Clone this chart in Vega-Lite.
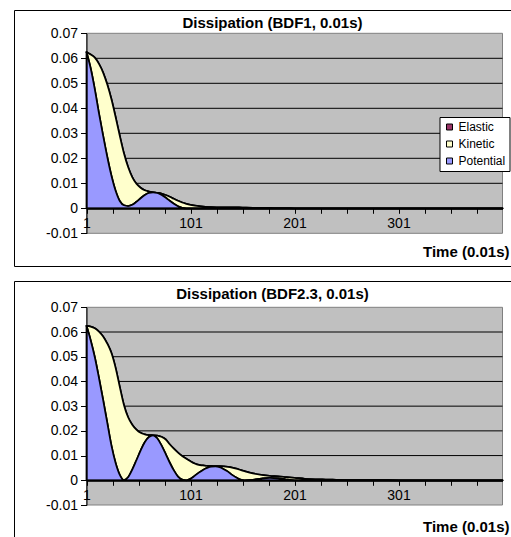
{
  "$schema": "https://vega.github.io/schema/vega-lite/v6.json",
  "background": "white",
  "padding": {"left": 13, "top": 9, "right": 0, "bottom": 0},
  "spacing": 13,
  "config": {
    "font": "Liberation Sans",
    "view": {"stroke": "black", "strokeWidth": 1, "fill": "white"},
    "axis": {"labelFont": "Liberation Sans", "labelColor": "black", "labelFontSize": 14, "domainColor": "black", "tickColor": "black", "titleColor": "black", "titleFont": "Liberation Sans", "labelOverlap": false},
    "legend": {"labelFont": "Liberation Sans", "labelColor": "black", "labelFontSize": 12, "symbolType": "square", "symbolSize": 36, "symbolStrokeColor": "black", "symbolStrokeWidth": 1, "strokeColor": "black", "fillColor": "white", "padding": 4, "rowPadding": 5, "labelOffset": 3, "cornerRadius": 0}
  },
  "datasets": {
    "bdf1": [
      {"t": 1, "Potential": 0.0625, "Kinetic": 0, "Elastic": 0},
      {"t": 5, "Potential": 0.056, "Kinetic": 0.0055, "Elastic": 0},
      {"t": 9, "Potential": 0.0476, "Kinetic": 0.0127, "Elastic": 0},
      {"t": 13, "Potential": 0.038, "Kinetic": 0.0198, "Elastic": 0},
      {"t": 17, "Potential": 0.029, "Kinetic": 0.0253, "Elastic": 0},
      {"t": 21, "Potential": 0.0205, "Kinetic": 0.029, "Elastic": 0},
      {"t": 25, "Potential": 0.013, "Kinetic": 0.0306, "Elastic": 0},
      {"t": 29, "Potential": 0.007, "Kinetic": 0.0295, "Elastic": 0},
      {"t": 33, "Potential": 0.0029, "Kinetic": 0.0261, "Elastic": 0},
      {"t": 37, "Potential": 0.0012, "Kinetic": 0.0208, "Elastic": 0},
      {"t": 41, "Potential": 0.0009, "Kinetic": 0.0156, "Elastic": 0},
      {"t": 45, "Potential": 0.0014, "Kinetic": 0.0111, "Elastic": 0},
      {"t": 49, "Potential": 0.0026, "Kinetic": 0.0072, "Elastic": 0},
      {"t": 53, "Potential": 0.004, "Kinetic": 0.0042, "Elastic": 0},
      {"t": 57, "Potential": 0.0053, "Kinetic": 0.0019, "Elastic": 0},
      {"t": 61, "Potential": 0.0062, "Kinetic": 0.0005, "Elastic": 0},
      {"t": 65, "Potential": 0.0064, "Kinetic": 0, "Elastic": 0},
      {"t": 69, "Potential": 0.0062, "Kinetic": 0, "Elastic": 0},
      {"t": 73, "Potential": 0.0054, "Kinetic": 0.0005, "Elastic": 0},
      {"t": 77, "Potential": 0.0043, "Kinetic": 0.001, "Elastic": 0},
      {"t": 81, "Potential": 0.003, "Kinetic": 0.0016, "Elastic": 0},
      {"t": 85, "Potential": 0.0018, "Kinetic": 0.002, "Elastic": 0},
      {"t": 89, "Potential": 0.0008, "Kinetic": 0.0022, "Elastic": 0},
      {"t": 93, "Potential": 0.0002, "Kinetic": 0.0021, "Elastic": 0},
      {"t": 97, "Potential": 0, "Kinetic": 0.0018, "Elastic": 0},
      {"t": 101, "Potential": 0, "Kinetic": 0.0014, "Elastic": 0},
      {"t": 111, "Potential": 0, "Kinetic": 0.0008, "Elastic": 0},
      {"t": 121, "Potential": 0, "Kinetic": 0.0005, "Elastic": 0},
      {"t": 131, "Potential": 0, "Kinetic": 0.0004, "Elastic": 0},
      {"t": 141, "Potential": 0, "Kinetic": 0.0004, "Elastic": 0},
      {"t": 151, "Potential": 0, "Kinetic": 0.0003, "Elastic": 0},
      {"t": 161, "Potential": 0, "Kinetic": 0.0002, "Elastic": 0},
      {"t": 171, "Potential": 0, "Kinetic": 0.0002, "Elastic": 0},
      {"t": 181, "Potential": 0, "Kinetic": 0.0001, "Elastic": 0},
      {"t": 191, "Potential": 0, "Kinetic": 0.0001, "Elastic": 0},
      {"t": 201, "Potential": 0, "Kinetic": 0, "Elastic": 0},
      {"t": 251, "Potential": 0, "Kinetic": 0, "Elastic": 0},
      {"t": 301, "Potential": 0, "Kinetic": 0, "Elastic": 0},
      {"t": 351, "Potential": 0, "Kinetic": 0, "Elastic": 0},
      {"t": 401, "Potential": 0, "Kinetic": 0, "Elastic": 0}
    ],
    "bdf23": [
      {"t": 1, "Potential": 0.0625, "Kinetic": 0, "Elastic": 0},
      {"t": 5, "Potential": 0.0567, "Kinetic": 0.0055, "Elastic": 0},
      {"t": 9, "Potential": 0.0498, "Kinetic": 0.0117, "Elastic": 0},
      {"t": 13, "Potential": 0.0414, "Kinetic": 0.0188, "Elastic": 0},
      {"t": 17, "Potential": 0.0325, "Kinetic": 0.0257, "Elastic": 0},
      {"t": 21, "Potential": 0.0232, "Kinetic": 0.0321, "Elastic": 0},
      {"t": 25, "Potential": 0.014, "Kinetic": 0.0375, "Elastic": 0},
      {"t": 29, "Potential": 0.007, "Kinetic": 0.0385, "Elastic": 0},
      {"t": 33, "Potential": 0.0022, "Kinetic": 0.0356, "Elastic": 0},
      {"t": 37, "Potential": 0.0001, "Kinetic": 0.0304, "Elastic": 0},
      {"t": 41, "Potential": 0.0012, "Kinetic": 0.0243, "Elastic": 0},
      {"t": 45, "Potential": 0.0043, "Kinetic": 0.0182, "Elastic": 0},
      {"t": 49, "Potential": 0.0081, "Kinetic": 0.0124, "Elastic": 0},
      {"t": 53, "Potential": 0.012, "Kinetic": 0.0072, "Elastic": 0},
      {"t": 57, "Potential": 0.0154, "Kinetic": 0.0032, "Elastic": 0},
      {"t": 61, "Potential": 0.0175, "Kinetic": 0.0008, "Elastic": 0},
      {"t": 65, "Potential": 0.0182, "Kinetic": 0, "Elastic": 0},
      {"t": 69, "Potential": 0.017, "Kinetic": 0.0011, "Elastic": 0},
      {"t": 73, "Potential": 0.0142, "Kinetic": 0.0034, "Elastic": 0},
      {"t": 77, "Potential": 0.0108, "Kinetic": 0.0058, "Elastic": 0},
      {"t": 81, "Potential": 0.0072, "Kinetic": 0.0074, "Elastic": 0},
      {"t": 85, "Potential": 0.004, "Kinetic": 0.0088, "Elastic": 0},
      {"t": 89, "Potential": 0.0015, "Kinetic": 0.0097, "Elastic": 0},
      {"t": 93, "Potential": 0.0003, "Kinetic": 0.0095, "Elastic": 0},
      {"t": 97, "Potential": 0, "Kinetic": 0.0087, "Elastic": 0},
      {"t": 101, "Potential": 0.0006, "Kinetic": 0.0071, "Elastic": 0},
      {"t": 105, "Potential": 0.0018, "Kinetic": 0.005, "Elastic": 0},
      {"t": 109, "Potential": 0.0031, "Kinetic": 0.0031, "Elastic": 0},
      {"t": 113, "Potential": 0.0042, "Kinetic": 0.0018, "Elastic": 0},
      {"t": 117, "Potential": 0.005, "Kinetic": 0.0008, "Elastic": 0},
      {"t": 121, "Potential": 0.0055, "Kinetic": 0.0003, "Elastic": 0},
      {"t": 125, "Potential": 0.0056, "Kinetic": 0.0001, "Elastic": 0},
      {"t": 129, "Potential": 0.0053, "Kinetic": 0.0004, "Elastic": 0},
      {"t": 133, "Potential": 0.0045, "Kinetic": 0.0011, "Elastic": 0},
      {"t": 137, "Potential": 0.0035, "Kinetic": 0.0019, "Elastic": 0},
      {"t": 141, "Potential": 0.0022, "Kinetic": 0.0029, "Elastic": 0},
      {"t": 145, "Potential": 0.0011, "Kinetic": 0.0036, "Elastic": 0},
      {"t": 149, "Potential": 0.0003, "Kinetic": 0.0039, "Elastic": 0},
      {"t": 153, "Potential": 0, "Kinetic": 0.0037, "Elastic": 0},
      {"t": 161, "Potential": 0.0002, "Kinetic": 0.0026, "Elastic": 0},
      {"t": 169, "Potential": 0.0007, "Kinetic": 0.0015, "Elastic": 0},
      {"t": 177, "Potential": 0.001, "Kinetic": 0.0008, "Elastic": 0},
      {"t": 185, "Potential": 0.0008, "Kinetic": 0.0008, "Elastic": 0},
      {"t": 193, "Potential": 0.0003, "Kinetic": 0.001, "Elastic": 0},
      {"t": 201, "Potential": 0, "Kinetic": 0.001, "Elastic": 0},
      {"t": 211, "Potential": 0, "Kinetic": 0.0006, "Elastic": 0},
      {"t": 221, "Potential": 0, "Kinetic": 0.0004, "Elastic": 0},
      {"t": 231, "Potential": 0, "Kinetic": 0.0003, "Elastic": 0},
      {"t": 241, "Potential": 0, "Kinetic": 0.0002, "Elastic": 0},
      {"t": 261, "Potential": 0, "Kinetic": 0.0001, "Elastic": 0},
      {"t": 281, "Potential": 0, "Kinetic": 0.0001, "Elastic": 0},
      {"t": 301, "Potential": 0, "Kinetic": 0, "Elastic": 0},
      {"t": 351, "Potential": 0, "Kinetic": 0, "Elastic": 0},
      {"t": 401, "Potential": 0, "Kinetic": 0, "Elastic": 0}
    ]
  },
  "vconcat": [
    {
      "width": 497,
      "height": 256,
      "title": {"text": "Dissipation (BDF1, 0.01s)", "anchor": "middle", "frame": "group", "offset": -21, "dx": 10, "fontSize": 15, "fontWeight": "bold", "color": "black"},
      "layer": [
        {"data": {"values": [{}]}, "mark": {"type": "rect", "fill": "#c0c0c0", "stroke": "#808080", "strokeWidth": 1},
         "encoding": {"x": {"datum": 1, "type": "quantitative"}, "x2": {"datum": 401}, "y": {"datum": -0.01, "type": "quantitative"}, "y2": {"datum": 0.07}}},
        {"data": {"values": [{}]}, "mark": {"type": "rule", "color": "black", "strokeWidth": 1},
         "encoding": {"x": {"datum": 1, "type": "quantitative"}, "x2": {"datum": 401}, "y": {"datum": 0.01, "type": "quantitative"}}},
        {"data": {"values": [{}]}, "mark": {"type": "rule", "color": "black", "strokeWidth": 1},
         "encoding": {"x": {"datum": 1, "type": "quantitative"}, "x2": {"datum": 401}, "y": {"datum": 0.02, "type": "quantitative"}}},
        {"data": {"values": [{}]}, "mark": {"type": "rule", "color": "black", "strokeWidth": 1},
         "encoding": {"x": {"datum": 1, "type": "quantitative"}, "x2": {"datum": 401}, "y": {"datum": 0.03, "type": "quantitative"}}},
        {"data": {"values": [{}]}, "mark": {"type": "rule", "color": "black", "strokeWidth": 1},
         "encoding": {"x": {"datum": 1, "type": "quantitative"}, "x2": {"datum": 401}, "y": {"datum": 0.04, "type": "quantitative"}}},
        {"data": {"values": [{}]}, "mark": {"type": "rule", "color": "black", "strokeWidth": 1},
         "encoding": {"x": {"datum": 1, "type": "quantitative"}, "x2": {"datum": 401}, "y": {"datum": 0.05, "type": "quantitative"}}},
        {"data": {"values": [{}]}, "mark": {"type": "rule", "color": "black", "strokeWidth": 1},
         "encoding": {"x": {"datum": 1, "type": "quantitative"}, "x2": {"datum": 401}, "y": {"datum": 0.06, "type": "quantitative"}}},
        {"data": {"name": "bdf1"},
         "transform": [{"fold": ["Elastic", "Kinetic", "Potential"], "as": ["series", "energy"]}],
         "mark": {"type": "area", "interpolate": "monotone", "stroke": "black", "strokeWidth": 1.75, "strokeJoin": "round"},
         "encoding": {
           "x": {"field": "t", "type": "quantitative",
                 "scale": {"domain": [1, 401], "range": [72.5, 488.5], "nice": false, "zero": false},
                 "axis": {"orient": "bottom", "offset": -57.7, "tickCount": 40, "values": [1, 26, 51, 76, 101, 126, 151, 176, 201, 226, 251, 276, 301, 326, 351, 376],
                          "labelExpr": "(datum.value - 1) % 100 == 0 ? '' + datum.value : ''", "labelFlush": false, "labelOverlap": false,
                          "tickSize": 5, "tickWidth": 1, "domainWidth": 2, "labelPadding": 3, "grid": false, "zindex": 1,
                          "title": "Time (0.01s)", "titleFontSize": 15, "titleFontWeight": "bold", "titleAlign": "right", "titleBaseline": "alphabetic", "titleX": 495, "titleY": 48}},
           "y": {"field": "energy", "type": "quantitative", "stack": "zero",
                 "scale": {"domain": [-0.01, 0.07], "range": [223.3, 23.3], "nice": false, "zero": false},
                 "axis": {"orient": "left", "offset": -72.5, "tickCount": 20, "values": [-0.01, 0, 0.01, 0.02, 0.03, 0.04, 0.05, 0.06, 0.07],
                          "labelExpr": "datum.value == 0 ? '0' : (datum.value < 0 ? '-' : '') + format(abs(datum.value), '.2f')",
                          "labelOverlap": false, "labelFlush": false,
                          "tickSize": 6, "tickWidth": 1, "domainWidth": 1, "labelPadding": 3, "grid": false, "zindex": 1, "title": null}},
           "color": {"field": "series", "type": "nominal",
                     "scale": {"domain": ["Elastic", "Kinetic", "Potential"], "range": ["#993366", "#ffffcc", "#9999ff"]},
                     "legend": {"orient": "none", "legendX": 425.5, "legendY": 107, "title": null}}
         }}
      ]
    },
    {
      "width": 497,
      "height": 257,
      "title": {"text": "Dissipation (BDF2.3, 0.01s)", "anchor": "middle", "frame": "group", "offset": -21, "dx": 10, "fontSize": 15, "fontWeight": "bold", "color": "black"},
      "layer": [
        {"data": {"values": [{}]}, "mark": {"type": "rect", "fill": "#c0c0c0", "stroke": "#808080", "strokeWidth": 1},
         "encoding": {"x": {"datum": 1, "type": "quantitative"}, "x2": {"datum": 401}, "y": {"datum": -0.01, "type": "quantitative"}, "y2": {"datum": 0.07}}},
        {"data": {"values": [{}]}, "mark": {"type": "rule", "color": "black", "strokeWidth": 1},
         "encoding": {"x": {"datum": 1, "type": "quantitative"}, "x2": {"datum": 401}, "y": {"datum": 0.01, "type": "quantitative"}}},
        {"data": {"values": [{}]}, "mark": {"type": "rule", "color": "black", "strokeWidth": 1},
         "encoding": {"x": {"datum": 1, "type": "quantitative"}, "x2": {"datum": 401}, "y": {"datum": 0.02, "type": "quantitative"}}},
        {"data": {"values": [{}]}, "mark": {"type": "rule", "color": "black", "strokeWidth": 1},
         "encoding": {"x": {"datum": 1, "type": "quantitative"}, "x2": {"datum": 401}, "y": {"datum": 0.03, "type": "quantitative"}}},
        {"data": {"values": [{}]}, "mark": {"type": "rule", "color": "black", "strokeWidth": 1},
         "encoding": {"x": {"datum": 1, "type": "quantitative"}, "x2": {"datum": 401}, "y": {"datum": 0.04, "type": "quantitative"}}},
        {"data": {"values": [{}]}, "mark": {"type": "rule", "color": "black", "strokeWidth": 1},
         "encoding": {"x": {"datum": 1, "type": "quantitative"}, "x2": {"datum": 401}, "y": {"datum": 0.05, "type": "quantitative"}}},
        {"data": {"values": [{}]}, "mark": {"type": "rule", "color": "black", "strokeWidth": 1},
         "encoding": {"x": {"datum": 1, "type": "quantitative"}, "x2": {"datum": 401}, "y": {"datum": 0.06, "type": "quantitative"}}},
        {"data": {"name": "bdf23"},
         "transform": [{"fold": ["Elastic", "Kinetic", "Potential"], "as": ["series", "energy"]}],
         "mark": {"type": "area", "interpolate": "monotone", "stroke": "black", "strokeWidth": 1.75, "strokeJoin": "round"},
         "encoding": {
           "x": {"field": "t", "type": "quantitative",
                 "scale": {"domain": [1, 401], "range": [72.5, 488.5], "nice": false, "zero": false},
                 "axis": {"orient": "bottom", "offset": -57.7, "tickCount": 40, "values": [1, 26, 51, 76, 101, 126, 151, 176, 201, 226, 251, 276, 301, 326, 351, 376],
                          "labelExpr": "(datum.value - 1) % 100 == 0 ? '' + datum.value : ''", "labelFlush": false, "labelOverlap": false,
                          "tickSize": 5, "tickWidth": 1, "domainWidth": 2, "labelPadding": 3, "grid": false, "zindex": 1,
                          "title": "Time (0.01s)", "titleFontSize": 15, "titleFontWeight": "bold", "titleAlign": "right", "titleBaseline": "alphabetic", "titleX": 495, "titleY": 51}},
           "y": {"field": "energy", "type": "quantitative", "stack": "zero",
                 "scale": {"domain": [-0.01, 0.07], "range": [224, 26.3], "nice": false, "zero": false},
                 "axis": {"orient": "left", "offset": -72.5, "tickCount": 20, "values": [-0.01, 0, 0.01, 0.02, 0.03, 0.04, 0.05, 0.06, 0.07],
                          "labelExpr": "datum.value == 0 ? '0' : (datum.value < 0 ? '-' : '') + format(abs(datum.value), '.2f')",
                          "labelOverlap": false, "labelFlush": false,
                          "tickSize": 6, "tickWidth": 1, "domainWidth": 1, "labelPadding": 3, "grid": false, "zindex": 1, "title": null}},
           "color": {"field": "series", "type": "nominal",
                     "scale": {"domain": ["Elastic", "Kinetic", "Potential"], "range": ["#993366", "#ffffcc", "#9999ff"]},
                     "legend": {"orient": "none", "legendX": 427, "legendY": 110, "title": null}}
         }}
      ]
    }
  ]
}
